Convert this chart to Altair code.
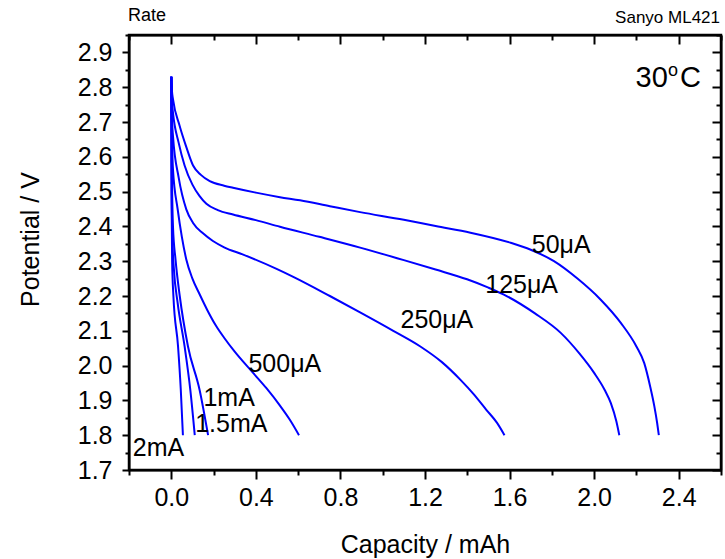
import altair as alt
import pandas as pd

FONT = "Liberation Sans"
BLUE = "#0000ff"

# ---- discharge curves (capacity mAh, potential V) ----
series_names = ["50μA", "125μA", "250μA", "500μA", "1mA", "1.5mA", "2mA"]

cap_50 = [0, 0.003, 0.008, 0.039, 0.07, 0.103, 0.14, 0.182, 0.25, 0.292, 0.4, 0.514, 0.609, 0.75,
          0.893, 1.1, 1.25, 1.415, 1.605, 1.70, 1.81, 1.921, 2.03, 2.127, 2.20, 2.237, 2.265,
          2.285, 2.298, 2.306]
v_50 = [2.83, 2.79, 2.766, 2.69, 2.63, 2.575, 2.548, 2.530, 2.517, 2.511, 2.497, 2.484, 2.475, 2.458,
        2.441, 2.419, 2.401, 2.382, 2.353, 2.333, 2.30, 2.25, 2.19, 2.122, 2.055, 2.007, 1.94,
        1.882, 1.835, 1.80]

cap_125 = [0, 0.003, 0.008, 0.035, 0.063, 0.1, 0.134, 0.166, 0.22, 0.292, 0.4, 0.514, 0.7, 0.893,
           1.1, 1.25, 1.399, 1.5, 1.573, 1.72, 1.842, 1.93, 2.0, 2.05, 2.079, 2.105, 2.119]
v_125 = [2.83, 2.76, 2.727, 2.64, 2.575, 2.52, 2.487, 2.465, 2.447, 2.434, 2.418, 2.399, 2.37, 2.339,
         2.303, 2.276, 2.248, 2.224, 2.204, 2.15, 2.094, 2.035, 1.979, 1.93, 1.892, 1.84, 1.80]

cap_250 = [0, 0.003, 0.008, 0.035, 0.071, 0.103, 0.15, 0.197, 0.25, 0.34, 0.498, 0.577, 0.75, 0.893,
           1.05, 1.178, 1.28, 1.368, 1.43, 1.49, 1.54, 1.576]
v_250 = [2.83, 2.72, 2.66, 2.54, 2.449, 2.41, 2.38, 2.358, 2.34, 2.319, 2.278, 2.255, 2.20, 2.153,
         2.10, 2.055, 2.01, 1.959, 1.918, 1.873, 1.836, 1.80]

cap_500 = [0, 0.003, 0.008, 0.03, 0.05, 0.071, 0.1, 0.134, 0.17, 0.213, 0.25, 0.3, 0.387, 0.45,
           0.514, 0.56, 0.604]
v_500 = [2.83, 2.68, 2.564, 2.45, 2.37, 2.305, 2.25, 2.205, 2.16, 2.113, 2.08, 2.04, 1.979, 1.935,
         1.885, 1.845, 1.80]

cap_1m = [0, 0.002, 0.008, 0.02, 0.04, 0.079, 0.134, 0.174]
v_1m = [2.83, 2.6, 2.4, 2.305, 2.2, 2.055, 1.93, 1.80]

cap_15m = [0, 0.002, 0.006, 0.012, 0.03, 0.063, 0.09, 0.111]
v_15m = [2.83, 2.5, 2.35, 2.28, 2.18, 2.055, 1.93, 1.80]

cap_2m = [0, 0.001, 0.004, 0.01, 0.032, 0.045, 0.055]
v_2m = [2.83, 2.5, 2.3, 2.2, 2.055, 1.93, 1.80]

# ---- curve labels ----
label_text = ["50μA", "125μA", "250μA", "500μA", "1mA", "1.5mA", "2mA"]
label_x = [1.705, 1.485, 1.084, 0.365, 0.152, 0.113, -0.182]
label_y = [2.323, 2.208, 2.108, 1.982, 1.884, 1.810, 1.740]

# ---- temperature annotation "30oC" ----
temp_text = ["30", "C"]
temp_x = [2.196, 2.406]
temp_y = [2.801, 2.801]
sup_text = ["o"]
sup_x = [2.349]
sup_y = [2.831]

# ---- axis ticks ----
x_major = [0.0, 0.4, 0.8, 1.2, 1.6, 2.0, 2.4]
x_minor = [-0.2, 0.2, 0.6, 1.0, 1.4, 1.8, 2.2, 2.6]
y_major = [1.7, 1.8, 1.9, 2.0, 2.1, 2.2, 2.3, 2.4, 2.5, 2.6, 2.7, 2.8, 2.9]
y_minor = [1.75, 1.85, 1.95, 2.05, 2.15, 2.25, 2.35, 2.45, 2.55, 2.65, 2.75, 2.85, 2.95]

W, H = 592, 435

caps = [cap_50, cap_125, cap_250, cap_500, cap_1m, cap_15m, cap_2m]
vols = [v_50, v_125, v_250, v_500, v_1m, v_15m, v_2m]
rows = []
for name, cs, vs in zip(series_names, caps, vols):
    for i, (c, v) in enumerate(zip(cs, vs)):
        rows.append({"series": name, "idx": i, "x": c, "y": v})
curves = pd.DataFrame(rows)
labels = pd.DataFrame({"label": label_text, "x": label_x, "y": label_y})
temp = pd.DataFrame({"t": temp_text, "x": temp_x, "y": temp_y})
sup = pd.DataFrame({"t": sup_text, "x": sup_x, "y": sup_y})

xs = alt.Scale(domain=[-0.2, 2.6], nice=False, zero=False)
ys = alt.Scale(domain=[1.7, 2.95], nice=False, zero=False)

# plot frame
frame = alt.Chart(pd.DataFrame({"f": [0]})).mark_rect(
    fillOpacity=0, stroke="#000000", strokeWidth=2.5).encode(
    x=alt.value(0), x2=alt.value(W), y=alt.value(0), y2=alt.value(H))

# layer 1: curves, bottom & left major axes with labels
lines = alt.Chart(curves).mark_line(strokeWidth=2, color=BLUE, interpolate="monotone").encode(
    x=alt.X("x:Q", scale=xs, axis=alt.Axis(
        orient="bottom", values=x_major, format=".1f", tickSize=9, labelPadding=6,
        labelOverlap=False, title="Capacity / mAh", titleX=W / 2, titleY=82,
        titleBaseline="alphabetic", titleAlign="center")),
    y=alt.Y("y:Q", scale=ys, axis=alt.Axis(
        orient="left", values=y_major, format=".1f", tickSize=7, labelPadding=10,
        labelOverlap=False, title="Potential / V", titleX=-91, titleY=204,
        titleAngle=270, titleBaseline="alphabetic", titleAlign="center")),
    detail="series:N",
    order="idx:Q",
)

# layer 2: curve labels, bottom & left minor ticks
lab = alt.Chart(labels).mark_text(align="left", baseline="alphabetic", fontSize=25,
                                  font=FONT, color="black").encode(
    x=alt.X("x:Q", scale=xs, axis=alt.Axis(orient="bottom", values=x_minor, tickSize=5,
                                            labels=False, domain=False, title=None)),
    y=alt.Y("y:Q", scale=ys, axis=alt.Axis(orient="left", values=y_minor, tickSize=4,
                                            labels=False, domain=False, title=None)),
    text="label:N",
)

# layer 3: "30" and "C", top & right major ticks (inward)
tmp = alt.Chart(temp).mark_text(align="left", baseline="alphabetic", fontSize=29,
                                font=FONT, color="black").encode(
    x=alt.X("x:Q", scale=xs, axis=alt.Axis(orient="bottom", offset=-H, values=x_major,
                                            tickSize=9, labels=False, title=None)),
    y=alt.Y("y:Q", scale=ys, axis=alt.Axis(orient="left", offset=-W, values=y_major,
                                            tickSize=9, labels=False, title=None)),
    text="t:N",
)

# layer 4: superscript "o", top & right minor ticks (inward)
sp = alt.Chart(sup).mark_text(align="left", baseline="alphabetic", fontSize=18,
                              font=FONT, color="black").encode(
    x=alt.X("x:Q", scale=xs, axis=alt.Axis(orient="bottom", offset=-H, values=x_minor,
                                            tickSize=5, labels=False, domain=False, title=None)),
    y=alt.Y("y:Q", scale=ys, axis=alt.Axis(orient="left", offset=-W, values=y_minor,
                                            tickSize=5, labels=False, domain=False, title=None)),
    text="t:N",
)

rate = alt.Chart(pd.DataFrame({"t": ["Rate"]})).mark_text(
    align="left", baseline="alphabetic", fontSize=18, font=FONT, color="black").encode(
    x=alt.value(-1), y=alt.value(-14), text="t:N")

sanyo = alt.Chart(pd.DataFrame({"t": ["Sanyo ML421"]})).mark_text(
    align="right", baseline="alphabetic", fontSize=17, font=FONT, color="black").encode(
    x=alt.value(W - 1), y=alt.value(-12), text="t:N")

chart = alt.layer(lines, lab, tmp, sp, rate, sanyo, frame).resolve_axis(
    x="independent", y="independent"
).properties(
    width=W, height=H,
    autosize=alt.AutoSizeParams(type="none"),
    padding={"left": 129, "top": 35, "right": 4, "bottom": 89},
    background="white",
).configure_axis(
    domainColor="black", domainWidth=2, tickColor="black", tickWidth=2,
    labelColor="black", titleColor="black", labelFont=FONT, titleFont=FONT,
    labelFontSize=25, titleFontSize=25, titleFontWeight="normal", grid=False,
).configure_view(stroke="black", strokeWidth=2)

chart.save("out.html", embed_options={"renderer": "svg", "actions": False})
